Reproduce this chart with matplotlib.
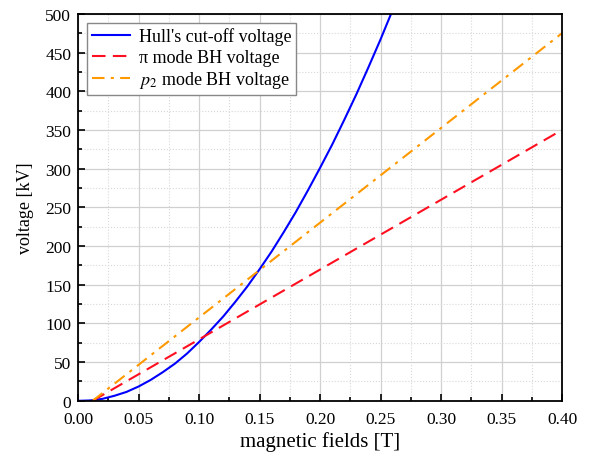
import numpy as np
import matplotlib
matplotlib.use('Agg')
import matplotlib.pyplot as plt
from matplotlib.ticker import MultipleLocator

plt.rcParams['font.family'] = ['Liberation Serif', 'DejaVu Serif']
plt.rcParams['mathtext.fontset'] = 'stix'

# Hull's cut-off voltage
b_hull = [0.0, 0.01, 0.02, 0.03, 0.04, 0.05, 0.06, 0.07, 0.08, 0.09, 0.10, 0.11, 0.12, 0.13,
          0.14, 0.15, 0.16, 0.17, 0.18, 0.19, 0.20, 0.21, 0.22, 0.23, 0.24, 0.25, 0.26]
v_hull = [0.0, 0.5, 2.5, 6.5, 11.5, 18.5, 27, 37, 48, 61, 76, 92, 109, 128,
          148, 170, 193, 218, 244, 272, 301, 331, 363, 396, 431, 467, 505]

# pi mode BH voltage
b_pi = [0.012, 0.40]
v_pi = [0.0, 350.0]

# p2 mode BH voltage
b_p2 = [0.012, 0.40]
v_p2 = [0.0, 475.0]

fig = plt.figure(figsize=(5.96, 4.64), dpi=100)
ax = fig.add_axes([0.131, 0.134, 0.812, 0.834])

ax.plot(b_hull, v_hull, color='#0000ff', lw=1.5, label="Hull's cut-off voltage")
ax.plot(b_pi, v_pi, color='#ff1020', lw=1.5, ls=(0, (6.5, 3.5)), label='\u03c0 mode BH voltage')
ax.plot(b_p2, v_p2, color='#ff9900', lw=1.5, ls=(0, (6, 3, 1.5, 3)), label='$p_2$ mode BH voltage')

ax.set_xlim(0, 0.40)
ax.set_ylim(0, 500)
ax.xaxis.set_major_locator(MultipleLocator(0.05))
ax.xaxis.set_minor_locator(MultipleLocator(0.025))
ax.yaxis.set_major_locator(MultipleLocator(50))
ax.yaxis.set_minor_locator(MultipleLocator(25))
ax.xaxis.set_major_formatter(plt.FormatStrFormatter('%.2f'))

ax.grid(True, which='major', color='#d0d0d0', lw=0.9, ls='-')
ax.grid(True, which='minor', color='#d8d8d8', lw=0.8, ls=':')
ax.set_axisbelow(True)

ax.tick_params(which='both', direction='in', top=False, right=False, labelsize=12.5, width=1.2)
ax.tick_params(which='major', length=5)
ax.tick_params(which='minor', length=3)
ax.tick_params(axis='x', which='major', pad=7)
ax.tick_params(axis='y', which='major', pad=5)
for s in ax.spines.values():
    s.set_linewidth(1.3)

ax.set_xlabel('magnetic fields [T]', fontsize=15, labelpad=3)
ax.set_ylabel('voltage [kV]', fontsize=13, labelpad=8)

leg = ax.legend(loc='upper left', fontsize=13, fancybox=False, edgecolor='#888888',
                framealpha=1, handlelength=2.1, borderaxespad=0.5, labelspacing=0.2,
                handletextpad=0.5, borderpad=0.25)
leg.get_frame().set_linewidth(1.0)

fig.savefig('out.png', dpi=100)
